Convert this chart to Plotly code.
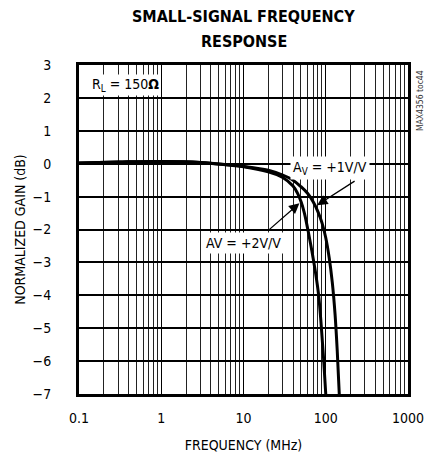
import plotly.graph_objects as go

# Data (frequency in MHz, normalized gain in dB)
freq_av1 = [0.1, 0.3, 1, 3, 7, 10, 20, 30, 40, 50, 60, 70, 80, 90, 100, 110, 120, 130, 138, 146]
gain_av1 = [0.02, 0.05, 0.07, 0.04, -0.04, -0.08, -0.2, -0.35, -0.5, -0.7, -0.9, -1.15, -1.45, -1.8, -2.25, -2.85, -3.6, -4.6, -5.7, -7.0]

freq_av2 = [0.1, 0.3, 1, 3, 7, 10, 20, 30, 40, 45, 50, 55, 60, 65, 70, 75, 82, 88, 94, 100]
gain_av2 = [0.02, 0.05, 0.07, 0.04, -0.05, -0.09, -0.25, -0.42, -0.68, -0.88, -1.15, -1.5, -1.95, -2.4, -2.85, -3.3, -4.0, -4.9, -5.9, -7.0]

x_ticks = [0.1, 1, 10, 100, 1000]
x_tick_labels = ["0.1", "1", "10", "100", "1000"]
y_ticks = [3, 2, 1, 0, -1, -2, -3, -4, -5, -6, -7]

FONT = "DejaVu Sans Condensed, Liberation Sans Narrow, Liberation Sans, sans-serif"

fig = go.Figure()
fig.add_trace(go.Scatter(x=freq_av2, y=gain_av2, mode="lines",
                         line=dict(color="black", width=3, shape="spline", smoothing=1),
                         showlegend=False))
fig.add_trace(go.Scatter(x=freq_av1, y=gain_av1, mode="lines",
                         line=dict(color="black", width=3, shape="spline", smoothing=1),
                         showlegend=False))

W, H = 424, 450
ML, MR, MT, MB = 71, 24, 57, 64
fig.update_layout(
    width=W, height=H,
    margin=dict(l=ML, r=MR, t=MT, b=MB, autoexpand=False),
    paper_bgcolor="white", plot_bgcolor="white",
    font=dict(family=FONT, color="black", size=13),
    showlegend=False,
)

fig.update_xaxes(
    type="log", range=[-1, 3], automargin=False,
    tickvals=x_ticks, ticktext=x_tick_labels, ticks="",
    showgrid=True, gridcolor="black", gridwidth=1.3,
    minor=dict(dtick="D1", showgrid=True, gridcolor="#222", gridwidth=0.9, ticks=""),
    showline=True, linecolor="black", linewidth=3, mirror=True,
    title=dict(text="FREQUENCY (MHz)", font=dict(size=14), standoff=16),
    tickfont=dict(size=14), zeroline=False, ticklabelstandoff=9,
)
fig.update_yaxes(
    range=[-7, 3], automargin=False, tickvals=y_ticks, ticks="",
    showgrid=True, gridcolor="black", gridwidth=1.5,
    showline=True, linecolor="black", linewidth=3, mirror=True,
    title=dict(text="NORMALIZED GAIN (dB)", font=dict(size=14), standoff=4),
    tickfont=dict(size=14), zeroline=False, ticklabelstandoff=22,
)

plot_h = H - MT - MB
plot_w = W - ML - MR
def py(abs_y):
    # absolute page y (page has 8px body margin) -> paper y
    return (H - MB - (abs_y - 8)) / plot_h
def px(abs_x):
    return ((abs_x - 8) - ML) / plot_w

# Title (two lines)
fig.add_annotation(x=px(243.5), y=py(17), xref="paper", yref="paper",
                   text="<b>SMALL-SIGNAL FREQUENCY</b>", showarrow=False,
                   xanchor="center", yanchor="middle", font=dict(size=16))
fig.add_annotation(x=px(243.5), y=py(41), xref="paper", yref="paper",
                   text="<b>RESPONSE</b>", showarrow=False,
                   xanchor="center", yanchor="middle", font=dict(size=16))

# Labels
fig.add_annotation(x=-0.87, y=2.4, xref="x", yref="y", xanchor="left",
                   text="R<sub>L</sub> = 150<b>Ω</b>", showarrow=False,
                   bgcolor="white", font=dict(size=14), borderpad=1)
fig.add_annotation(x=2.05, y=-0.13, xref="x", yref="y",
                   text="A<sub>V</sub> = +1V/V", showarrow=False,
                   bgcolor="white", font=dict(size=14), borderpad=2)
fig.add_annotation(x=0.994, y=-2.41, xref="x", yref="y",
                   text="AV = +2V/V", showarrow=False,
                   bgcolor="white", font=dict(size=14), borderpad=2)
# Arrows
fig.add_annotation(x=1.895, y=-1.26, xref="x", yref="y", text="",
                   showarrow=True, ax=39, ay=-25, arrowhead=2, arrowsize=1.6,
                   arrowwidth=1.3, arrowcolor="black")
fig.add_annotation(x=1.68, y=-1.2, xref="x", yref="y", text="",
                   showarrow=True, ax=-32, ay=28, arrowhead=2, arrowsize=1.6,
                   arrowwidth=1.3, arrowcolor="black")
# Side text
fig.add_annotation(x=px(420), y=py(100), xref="paper", yref="paper",
                   xanchor="center", yanchor="middle",
                   text="MAX4356 toc44", showarrow=False, textangle=-90,
                   font=dict(size=8.5, color="#333"))

fig.write_html("out.html")
